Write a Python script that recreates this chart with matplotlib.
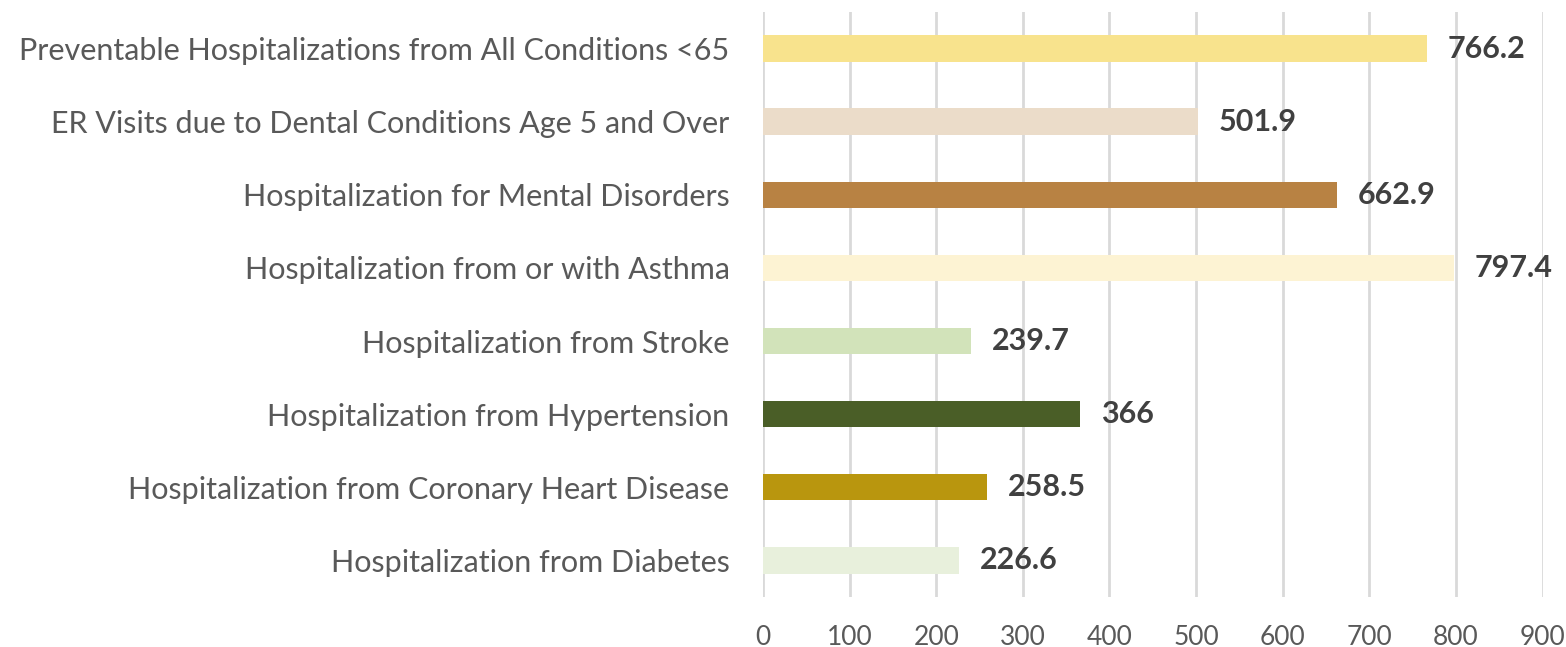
import matplotlib
matplotlib.use("Agg")
import matplotlib.pyplot as plt

categories = [
    "Hospitalization from Diabetes",
    "Hospitalization from Coronary Heart Disease",
    "Hospitalization from Hypertension",
    "Hospitalization from Stroke",
    "Hospitalization from or with Asthma",
    "Hospitalization for Mental Disorders",
    "ER Visits due to Dental Conditions Age 5 and Over",
    "Preventable Hospitalizations from All Conditions <65",
]
values = [226.6, 258.5, 366, 239.7, 797.4, 662.9, 501.9, 766.2]
value_labels = ["226.6", "258.5", "366", "239.7", "797.4", "662.9", "501.9", "766.2"]
colors = ["#E8F0DC", "#B9960E", "#4A5E27", "#D2E3BA",
          "#FDF3D3", "#B88243", "#EBDCC9", "#F8E38D"]
xticks = [0, 100, 200, 300, 400, 500, 600, 700, 800, 900]

plt.rcParams['font.family'] = ['Lato', 'DejaVu Sans']

fig = plt.figure(figsize=(15.66, 6.47), dpi=100)
ax = fig.add_axes([0.4872, 0.0773, 0.9851 - 0.4872, 0.9815 - 0.0773])

ypos = list(range(len(categories)))
ax.barh(ypos, values, height=0.36, color=colors, zorder=3)

for y, v, lab in zip(ypos, values, value_labels):
    ax.annotate(lab, xy=(v, y), xytext=(15, 0), textcoords='offset points',
                ha='left', va='center', fontsize=22, fontweight='bold',
                color='#404040')

ax.set_xlim(0, 900)
ax.set_ylim(-0.5, 7.5)
ax.set_xticks(xticks)
ax.set_xticklabels([str(t) for t in xticks], fontsize=19, color='#595959')
ax.set_yticks(ypos)
ax.set_yticklabels(categories, fontsize=22, color='#595959')
ax.tick_params(axis='y', length=0, pad=24)
ax.tick_params(axis='x', length=0, pad=20)
ax.grid(axis='x', color='#D9D9D9', linewidth=2, zorder=0)
ax.set_axisbelow(True)
for s in ax.spines.values():
    s.set_visible(False)

fig.savefig("out.png", dpi=100)
